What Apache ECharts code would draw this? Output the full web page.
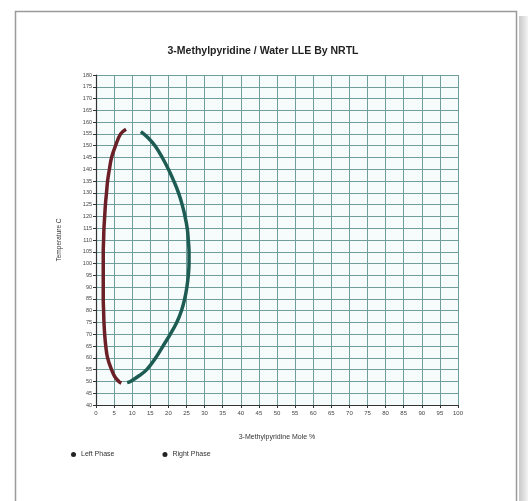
<!DOCTYPE html>
<html>
<head>
<meta charset="utf-8">
<script src="https://cdn.jsdelivr.net/npm/echarts@6/dist/echarts.min.js"></script>
<style>
html,body{margin:0;padding:0;background:#fff;}
#chart{width:528px;height:501px;}
</style>
</head>
<body>
<div id="chart"></div>
<script>
// Left phase: [mole %, temperature C]
const leftX = [7.0, 6.3, 5.2, 4.3, 3.2, 2.7, 2.4, 2.2, 2.1, 2.0, 2.0, 2.0, 2.0, 2.0, 2.1, 2.2, 2.4, 2.6, 2.9, 3.2, 3.7, 4.3, 5.4, 6.8, 8.3];
const leftT = [49.3, 50, 52, 55, 60, 65, 70, 75, 80, 85, 90, 95, 100, 105, 110, 115, 120, 125, 130, 135, 140, 145, 150, 155, 157];
// Right phase
const rightX = [8.6, 9.5, 12.0, 14.0, 16.5, 18.5, 20.5, 22.3, 23.6, 24.5, 25.1, 25.5, 25.7, 25.7, 25.5, 25.2, 24.6, 23.8, 22.8, 21.5, 20.0, 18.3, 16.3, 14.3, 12.4];
const rightT = [49.5, 50, 52.5, 55, 60, 65, 70, 75, 80, 85, 90, 95, 100, 105, 110, 115, 120, 125, 130, 135, 140, 145, 150, 153.5, 156];

const seriesNames = ['Left Phase', 'Right Phase'];
const titleText = '3-Methylpyridine / Water LLE By NRTL';
const xAxisName = '3-Methylpyridine Mole %';
const yAxisName = 'Temperature C';

const chart = echarts.init(document.getElementById('chart'));
const pairs = (xs, ys) => xs.map((x, i) => [x, ys[i]]);
const font = 'Liberation Sans, Arial, sans-serif';

chart.setOption({
  animation: false,
  backgroundColor: '#fff',
  graphic: [
    {type: 'rect', shape: {x: 519, y: 16, width: 9, height: 500},
     style: {fill: new echarts.graphic.LinearGradient(0, 0, 1, 0, [{offset: 0, color: '#c8c8c8'}, {offset: 1, color: '#f4f4f4'}])}, z: -2},
    {type: 'rect', shape: {x: 15.5, y: 11.5, width: 501, height: 500}, style: {fill: '#fff', stroke: '#9a9a9a', lineWidth: 1.5}, z: -1}
  ],
  title: {
    text: titleText, left: 258, top: 41, textAlign: 'center',
    textStyle: {fontFamily: font, fontSize: 10.5, fontWeight: 'bold', color: '#222'}
  },
  legend: {
    left: 66, top: 446, itemGap: 48, itemWidth: 5, itemHeight: 5, icon: 'circle',
    textStyle: {fontFamily: font, fontSize: 7, color: '#333'},
    data: [{name: seriesNames[0], itemStyle: {color: '#222'}}, {name: seriesNames[1], itemStyle: {color: '#222'}}]
  },
  grid: {left: 96, top: 75, width: 362, height: 330, show: true, backgroundColor: '#f6fcfc', borderWidth: 0},
  xAxis: {
    type: 'value', min: 0, max: 100, interval: 5,
    name: xAxisName, nameLocation: 'middle', nameGap: 29,
    nameTextStyle: {fontFamily: font, fontSize: 7, color: '#333'},
    axisLine: {onZero: false, lineStyle: {color: '#333', width: 1.2}},
    axisTick: {show: true, length: 3, lineStyle: {color: '#333'}},
    axisLabel: {fontFamily: font, fontSize: 6, color: '#444', margin: 5},
    splitLine: {show: true, lineStyle: {color: '#6f9e9c', width: 1}}
  },
  yAxis: {
    type: 'value', min: 40, max: 180, interval: 5,
    name: yAxisName, nameLocation: 'middle', nameGap: 33, nameRotate: 90,
    nameTextStyle: {fontFamily: font, fontSize: 6.5, color: '#333'},
    axisLine: {show: true, onZero: false, lineStyle: {color: '#333', width: 1.2}},
    axisTick: {show: true, length: 3, lineStyle: {color: '#333'}},
    axisLabel: {fontFamily: font, fontSize: 5.5, color: '#444', margin: 4},
    splitLine: {show: true, lineStyle: {color: '#6f9e9c', width: 1}}
  },
  series: [
    {
      name: seriesNames[0], type: 'line', smooth: 0.4, showSymbol: false, symbol: 'circle',
      data: pairs(leftX, leftT),
      lineStyle: {color: '#6b1f26', width: 3.5}, itemStyle: {color: '#6b1f26'}
    },
    {
      name: seriesNames[1], type: 'line', smooth: 0.4, showSymbol: false, symbol: 'circle',
      data: pairs(rightX, rightT),
      lineStyle: {color: '#1d5c52', width: 3.5}, itemStyle: {color: '#1d5c52'}
    }
  ]
});
</script>
</body>
</html>
